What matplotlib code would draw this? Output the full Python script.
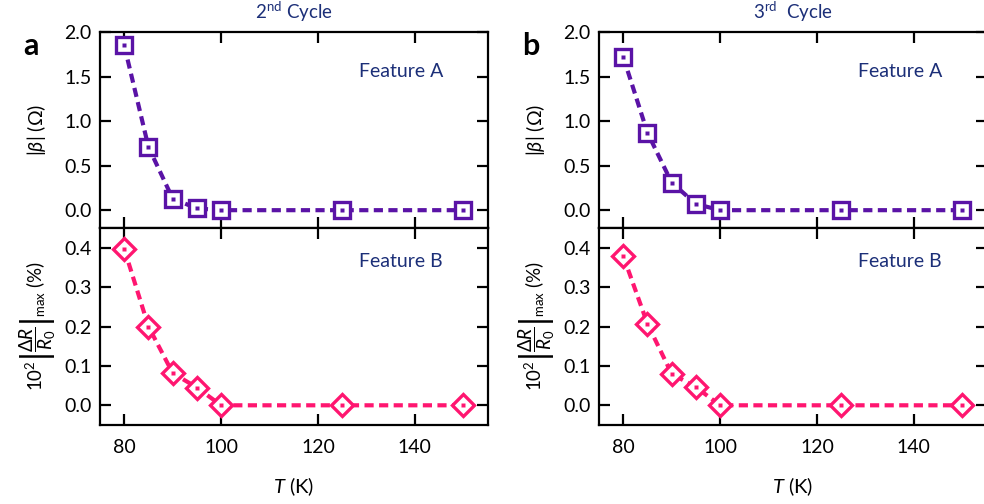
import matplotlib
matplotlib.use("Agg")
import matplotlib.pyplot as plt

plt.rcParams['font.family'] = ['Lato', 'DejaVu Sans']
plt.rcParams['mathtext.fontset'] = 'custom'
plt.rcParams['mathtext.rm'] = 'Lato'
plt.rcParams['mathtext.it'] = 'Lato:italic'
plt.rcParams['mathtext.bf'] = 'Lato:bold'

# Temperatures (K)
temperature = [80, 85, 90, 95, 100, 125, 150]

# 2nd cycle
beta_cycle2 = [1.85, 0.71, 0.13, 0.02, 0.0, 0.0, 0.0]
dr_cycle2 = [0.397, 0.20, 0.082, 0.045, 0.0, 0.0, 0.0]

# 3rd cycle
beta_cycle3 = [1.72, 0.87, 0.31, 0.07, 0.0, 0.0, 0.0]
dr_cycle3 = [0.379, 0.207, 0.08, 0.046, 0.0, 0.0, 0.0]

x_ticks = [80, 100, 120, 140]
beta_ticks = [0.0, 0.5, 1.0, 1.5, 2.0]
dr_ticks = [0.0, 0.1, 0.2, 0.3, 0.4]

purple = '#5a13a6'
pink = '#ff1670'
navy = '#1c2f78'

W, H = 984, 504
fig = plt.figure(figsize=(W / 100, H / 100), dpi=100)

def frac_x(px):
    return px / W

def frac_y(py):
    return 1 - py / H

def style_axes(ax):
    ax.tick_params(direction='in', length=8, width=1.6, top=True, right=True,
                   labelsize=14, pad=6)
    ax.tick_params(axis='x', pad=10)
    for s in ax.spines.values():
        s.set_linewidth(1.6)

def draw_series(ax, y, color, marker, ms):
    ax.plot(temperature, y, ls=(0, (2.2, 1.3)), lw=3, color=color, zorder=2)
    ax.plot(temperature, y, ls='none', marker=marker, ms=ms, mfc='white',
            mec=color, mew=2.4, zorder=3)
    ax.plot(temperature, y, ls='none', marker='s', ms=2.2, mfc=color,
            mec='none', zorder=4)

panels = [
    (100, 'a', r'2$^{\mathrm{nd}}$ Cycle', beta_cycle2, dr_cycle2),
    (599, 'b', r'3$^{\mathrm{rd}}$  Cycle', beta_cycle3, dr_cycle3),
]

top_px, mid_px, bot_px = 32, 228, 425
width_px = 388

for left_px, letter, title, beta, dr in panels:
    l = frac_x(left_px)
    w = frac_x(width_px)
    ax_top = fig.add_axes([l, frac_y(mid_px), w, frac_y(top_px) - frac_y(mid_px)])
    ax_bot = fig.add_axes([l, frac_y(bot_px), w, frac_y(mid_px) - frac_y(bot_px)])

    for ax in (ax_top, ax_bot):
        style_axes(ax)
        ax.set_xlim(75, 155.1)
        ax.set_xticks(x_ticks)

    ax_top.set_ylim(-0.2, 2.0)
    ax_top.set_yticks(beta_ticks)
    ax_top.set_yticklabels([f'{v:.1f}' for v in beta_ticks])
    ax_top.tick_params(labelbottom=False)

    ax_bot.set_ylim(-0.05, 0.45)
    ax_bot.set_yticks(dr_ticks)
    ax_bot.set_yticklabels([f'{v:.1f}' for v in dr_ticks])

    draw_series(ax_top, beta, purple, 's', 12)
    draw_series(ax_bot, dr, pink, 'D', 11)

    ax_top.set_ylabel(r'$|\beta|$ ($\Omega$)', fontsize=14)
    ax_bot.set_ylabel(r'10$^2\left|\dfrac{\Delta R}{R_0}\right|_{\mathrm{max}}$ (%)',
                      fontsize=13.5)
    ax_top.yaxis.set_label_coords(-0.135, 0.5)
    ax_bot.yaxis.set_label_coords(-0.108, 0.5)

    ax_bot.set_xlabel(r'$T$ (K)', fontsize=14.5, labelpad=14)

    ax_top.text(0.776, 0.80, 'Feature A', transform=ax_top.transAxes,
                ha='center', va='center', color=navy, fontsize=14)
    ax_bot.text(0.776, 0.83, 'Feature B', transform=ax_bot.transAxes,
                ha='center', va='center', color=navy, fontsize=14)

    ax_top.text(0.5, 1.10, title, transform=ax_top.transAxes,
                ha='center', va='center', color=navy, fontsize=13.5)

    fig.text(frac_x(left_px - 77), frac_y(46), letter, fontsize=22,
             fontweight='bold', ha='left', va='center')

fig.savefig('out.png', dpi=100)
